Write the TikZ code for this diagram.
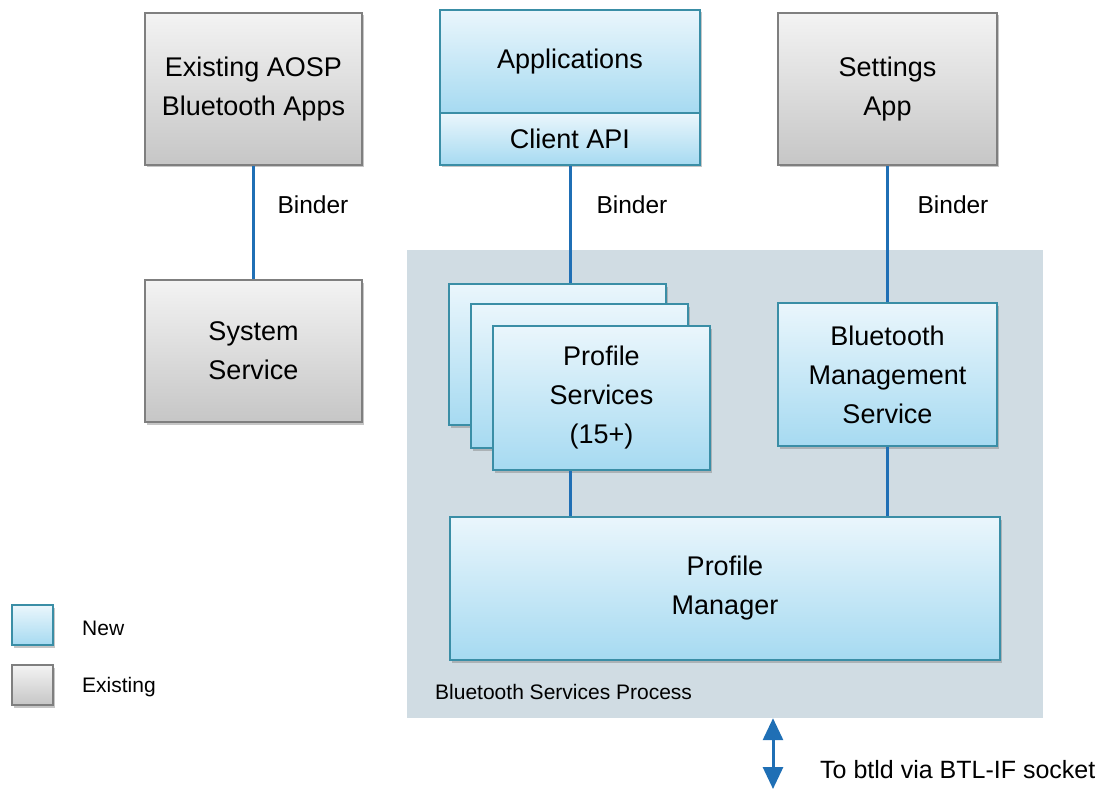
\documentclass[tikz,border=0pt]{standalone}
\usepackage{fontspec}
\setmainfont{Liberation Sans}
\usetikzlibrary{arrows.meta,shadows}
\definecolor{newline}{HTML}{3A8EA6}
\definecolor{newtop}{HTML}{EAF6FC}
\definecolor{newbot}{HTML}{A6DAF1}
\definecolor{oldline}{HTML}{7F7F7F}
\definecolor{oldtop}{HTML}{F3F3F3}
\definecolor{oldbot}{HTML}{C6C6C6}
\definecolor{procbg}{HTML}{D0DCE3}
\definecolor{link}{HTML}{1F6FB5}
\begin{document}
\begin{tikzpicture}[x=1pt, y=-1pt,
  every node/.style = {inner sep=0pt, align=center, font=\fontsize{27}{39}\selectfont},
  newbox/.style = {shape=rectangle, draw=newline, line width=2.4pt, top color=newtop, bottom color=newbot,
    drop shadow={shadow xshift=2pt, shadow yshift=-2.5pt, opacity=.45}},
  oldbox/.style = {shape=rectangle, draw=oldline, line width=2.4pt, top color=oldtop, bottom color=oldbot,
    drop shadow={shadow xshift=2pt, shadow yshift=-2.5pt, opacity=.45}},
  binder/.style = {font=\fontsize{24.5}{28}\selectfont},
  small/.style = {font=\fontsize{21}{25}\selectfont},
  link/.style = {draw=link, line width=3pt}]

  \useasboundingbox (0,0) rectangle (1109,789);

  \node [fill=procbg, minimum width=636pt, minimum height=468pt] (proc) at (725,484) {};
  \node [small, anchor=west] (procl) at (435,692) {Bluetooth Services Process};

  \node [oldbox, minimum width=217pt, minimum height=152pt] (aosp) at (253.5,89) {Existing AOSP\\Bluetooth Apps};
  \node [newbox, minimum width=260pt, minimum height=103pt] (apps) at (570,61.5) {Applications};
  \node [newbox, minimum width=260pt, minimum height=52pt] (capi) at (570,139) {Client API};
  \node [oldbox, minimum width=219pt, minimum height=152pt] (settings) at (887.5,89) {Settings\\App};
  \node [oldbox, minimum width=217pt, minimum height=142pt] (syssvc) at (253.5,351) {System\\Service};

  \node [newbox, minimum width=217pt, minimum height=141pt] (profa) at (557.5,354.5) {};
  \node [newbox, minimum width=217pt, minimum height=144pt] (profb) at (579.5,376) {};
  \node [newbox, minimum width=217pt, minimum height=144pt] (profc) at (601.5,398) {Profile\\Services\\(15+)};
  \node [newbox, minimum width=219pt, minimum height=143pt] (btmgmt) at (887.5,374.5) {Bluetooth\\Management\\Service};
  \node [newbox, minimum width=550pt, minimum height=143pt] (profmgr) at (725,588.5) {Profile\\Manager};

  \node [binder] (bind1) at (313,205) {Binder};
  \node [binder] (bind2) at (632,205) {Binder};
  \node [binder] (bind3) at (953,205) {Binder};

  \draw [link] (aosp.south) -- (syssvc.north);
  \draw [link] (capi.south) -- (capi.south |- profa.north);
  \draw [link] (settings.south) -- (btmgmt.north);
  \draw [link] (profc.south -| capi.south) -- (profmgr.north -| capi.south);
  \draw [link] (btmgmt.south) -- (btmgmt.south |- profmgr.north);

  \coordinate (btld) at (773,789);
  \draw [link, {Triangle[width=20pt,length=22pt]}-{Triangle[width=20pt,length=22pt]}] (proc.south -| btld) -- (btld);
  \node [binder, font=\fontsize{25}{28}\selectfont, anchor=west] (btldl) at (820,770) {To btld via BTL-IF socket};

  \node [newbox, minimum width=41pt, minimum height=40pt] (lnew) at (32.5,625) {};
  \node [oldbox, minimum width=41pt, minimum height=40pt] (lold) at (32.5,685) {};
  \node [small, anchor=west] (lnewl) at (82,628) {New};
  \node [small, anchor=west] (loldl) at (82,687) {Existing};

\end{tikzpicture}
\end{document}
